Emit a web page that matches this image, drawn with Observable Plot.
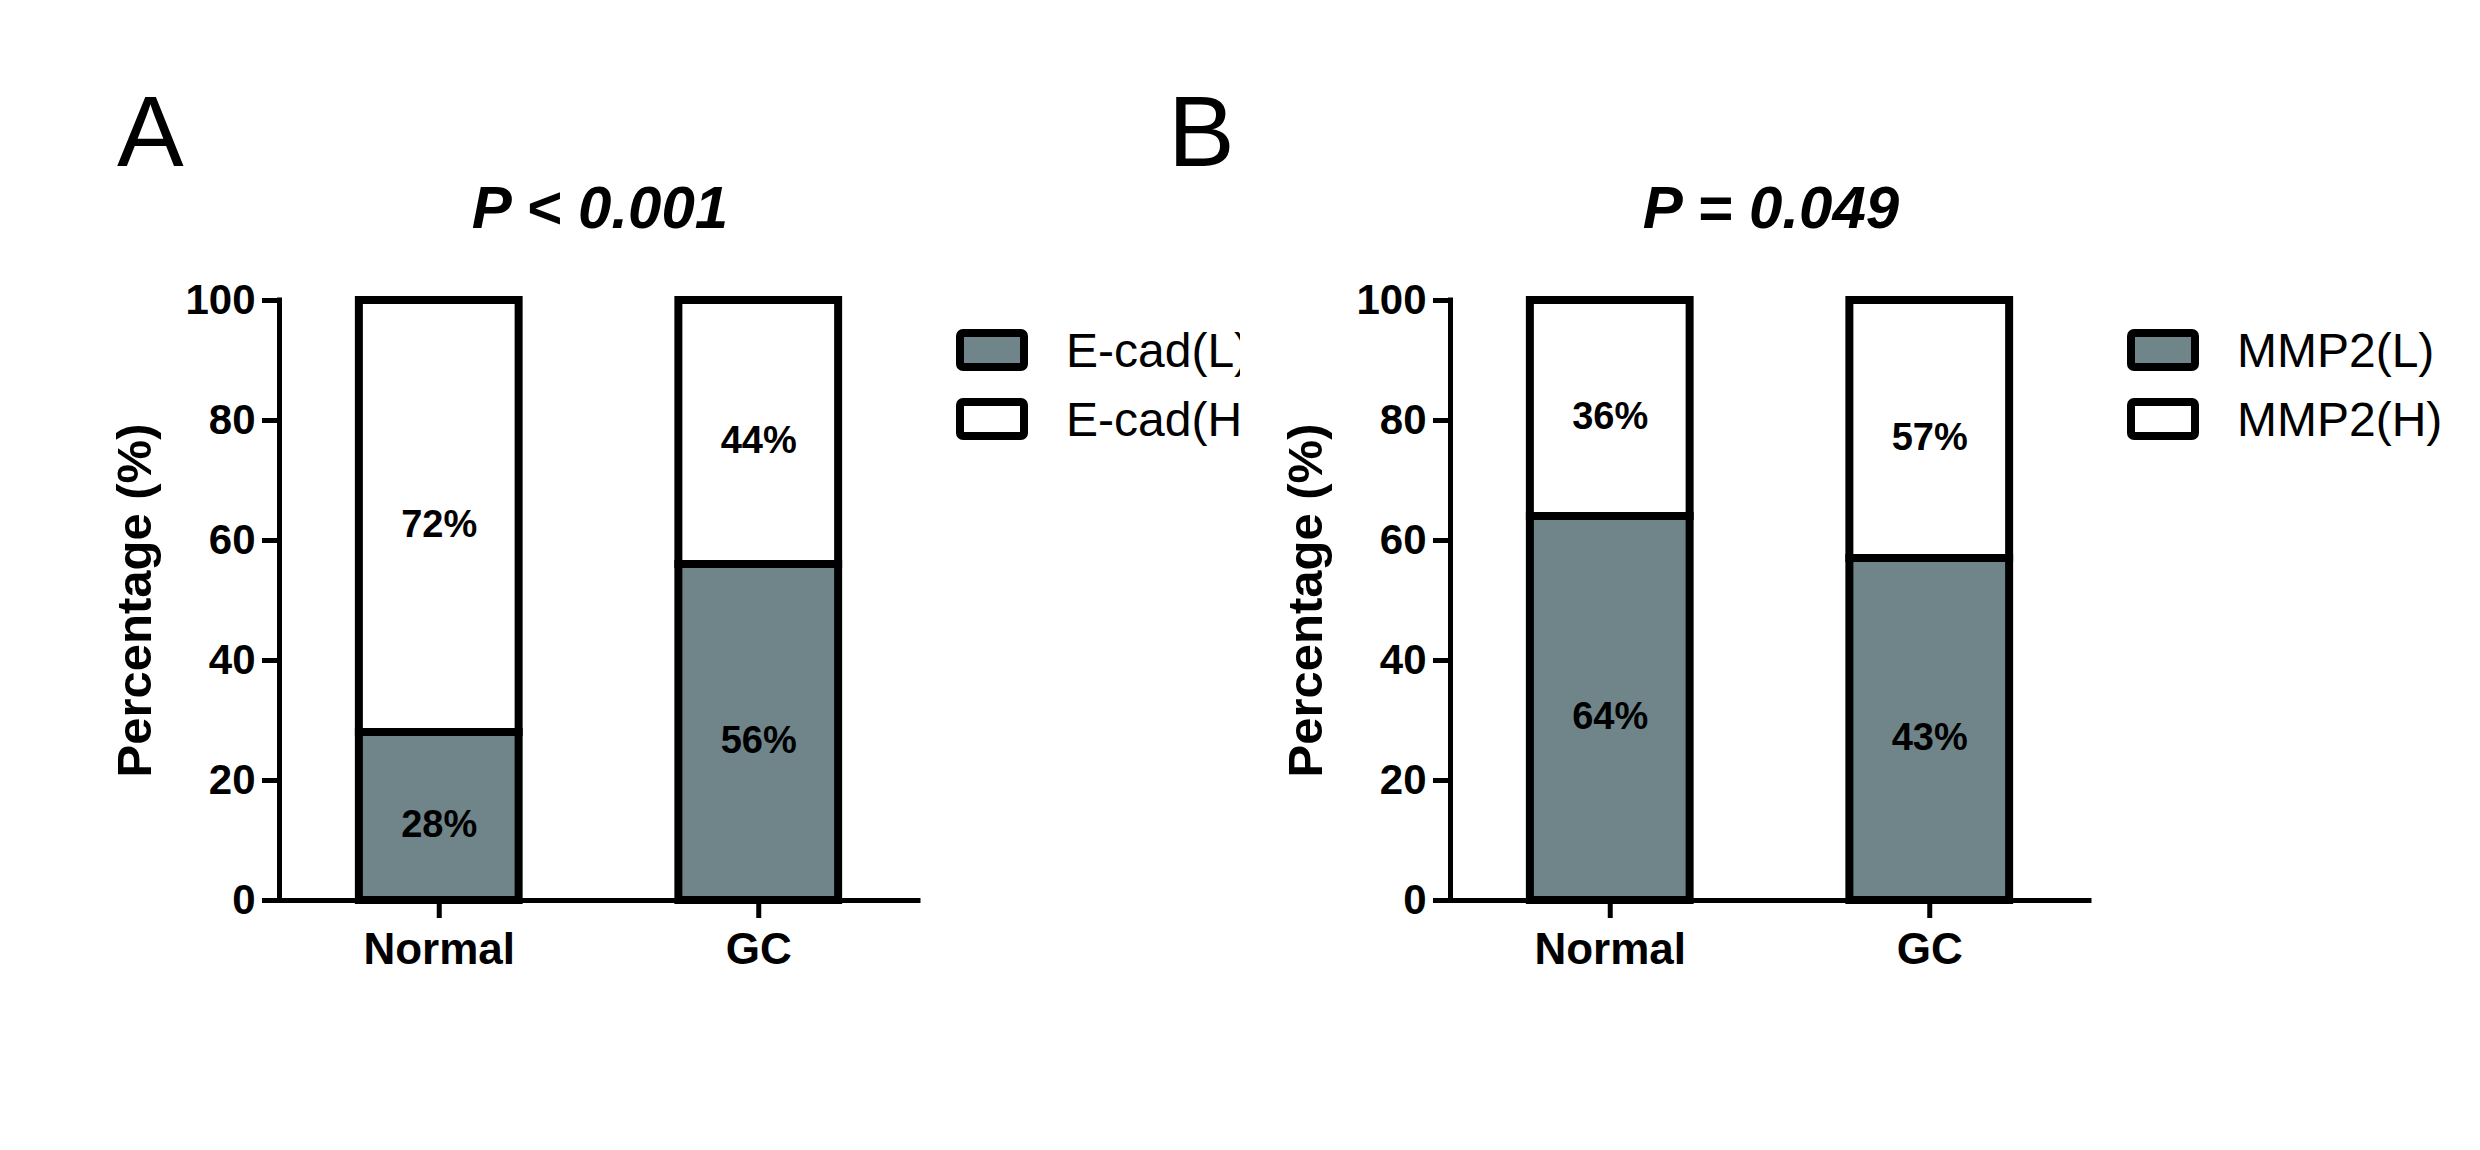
<!DOCTYPE html>
<html>
<head>
<meta charset="utf-8">
<script src="https://cdn.jsdelivr.net/npm/d3@7"></script>
<script src="https://cdn.jsdelivr.net/npm/@observablehq/plot@0.6"></script>
<style>
  html, body { margin: 0; padding: 0; background: white; }
  #page { position: relative; width: 2480px; height: 1150px; background: white; overflow: hidden; }
  .panel { position: absolute; top: 0; height: 1150px; overflow: hidden; }
  .panel svg { position: absolute; left: 0; top: 0; }
  .panel [aria-label$="tick label"] { font-weight: bold; }
</style>
</head>
<body>
<div id="page">
  <div id="pa" class="panel" style="left:0px;width:1240px"></div>
  <div id="pb" class="panel" style="left:1161px;width:1319px"></div>
</div>
<script>
// ---------------- data ----------------
const categories = ["Normal", "GC"];
const yTicks = [0, 20, 40, 60, 80, 100];
const yLabel = "Percentage (%)";

const ecadLow = [28, 56];
const ecadHigh = [72, 44];
const ecadLowLabels = ["28%", "56%"];
const ecadHighLabels = ["72%", "44%"];
const ecadLegend = ["E-cad(L)", "E-cad(H)"];
const ecadTitle = "P < 0.001";

const mmpLow = [64, 57];
const mmpHigh = [36, 43];
const mmpLowLabels = ["64%", "43%"];
const mmpHighLabels = ["36%", "57%"];
const mmpLegend = ["MMP2(L)", "MMP2(H)"];
const mmpTitle = "P = 0.049";

const levels = ["L", "H"];

// ---------------- style ----------------
const FONT = "'Liberation Sans', Arial, Helvetica, sans-serif";
const GRAY = "#6f8589";

function buildRows(low, high, lowLabels, highLabels) {
  return categories.flatMap((c, i) => [
    {i, cat: c, level: "L", y1: 0, y2: low[i], label: lowLabels[i]},
    {i, cat: c, level: "H", y1: low[i], y2: low[i] + high[i], label: highLabels[i]}
  ]);
}

function drawPanel(el, cfg) {
  const ox = cfg.offset;
  const rows = buildRows(cfg.low, cfg.high, cfg.lowLabels, cfg.highLabels);
  const chart = Plot.plot({
    width: 1240 + ox,
    height: 1150,
    marginLeft: 279 + ox,
    marginRight: 322,
    marginTop: 300,
    marginBottom: 250,
    style: {background: "transparent", fontFamily: FONT, color: "black", overflow: "visible"},
    x: {domain: [-0.5, categories.length - 0.5]},
    y: {domain: [0, 100]},
    color: {domain: levels, range: [GRAY, "white"]},
    marks: [
      Plot.rect(rows, {
        x1: d => d.i - 0.25, x2: d => d.i + 0.25,
        y1: "y1", y2: "y2",
        fill: "level", stroke: "black", strokeWidth: 8
      }),
      Plot.text(rows, {
        x: "i", y: d => (d.y1 + d.y2) / 2, text: "label",
        fontSize: 38, fontWeight: "bold", fill: "black", dy: 8
      }),
      Plot.ruleY([0], {strokeWidth: 5, strokeLinecap: "square"}),
      Plot.ruleX([-0.5], {strokeWidth: 5, strokeLinecap: "square"}),
      Plot.axisY({
        ticks: yTicks, tickSize: 17, tickPadding: 7, strokeWidth: 5,
        fontSize: 42, fontWeight: "bold", label: null
      }),
      Plot.axisX({
        ticks: categories.map((c, i) => i), tickFormat: i => categories[i],
        tickSize: 18, tickPadding: 14, strokeWidth: 5,
        fontSize: 44, fontWeight: "bold", label: null
      }),
      Plot.text([yLabel], {
        text: d => d, frameAnchor: "left", rotate: -90,
        textAnchor: "middle", lineAnchor: "bottom", dx: -129,
        fontSize: 49, fontWeight: "bold", fill: "black"
      })
    ]
  });
  el.appendChild(chart);

  // overlay: panel letter, title, legend
  const w = el.clientWidth || 1319;
  const svg = d3.select(el).append("svg")
    .attr("width", w).attr("height", 1150)
    .style("font-family", FONT)
    .style("pointer-events", "none");

  svg.append("text")
    .attr("x", cfg.letterX).attr("y", 166)
    .attr("font-size", 100)
    .attr("fill", "black")
    .text(cfg.letter);

  svg.append("text")
    .attr("x", 600 + ox).attr("y", 228)
    .attr("text-anchor", "middle")
    .attr("font-size", 60)
    .attr("font-weight", "bold")
    .attr("font-style", "italic")
    .attr("fill", "black")
    .text(cfg.title);

  const fills = [GRAY, "white"];
  cfg.legend.forEach((lab, k) => {
    svg.append("rect")
      .attr("x", 960 + ox).attr("y", 333 + k * 69)
      .attr("width", 64).attr("height", 34)
      .attr("rx", 3).attr("ry", 3)
      .attr("fill", fills[k]).attr("stroke", "black").attr("stroke-width", 8);
    svg.append("text")
      .attr("x", 1066 + ox).attr("y", 367 + k * 69)
      .attr("font-size", 48)
      .attr("fill", "black")
      .text(lab);
  });
}

drawPanel(document.getElementById("pa"), {
  low: ecadLow, high: ecadHigh, lowLabels: ecadLowLabels, highLabels: ecadHighLabels,
  legend: ecadLegend, title: ecadTitle, letter: "A", letterX: 117, offset: 0
});
drawPanel(document.getElementById("pb"), {
  low: mmpLow, high: mmpHigh, lowLabels: mmpLowLabels, highLabels: mmpHighLabels,
  legend: mmpLegend, title: mmpTitle, letter: "B", letterX: 7, offset: 10
});
</script>
</body>
</html>
